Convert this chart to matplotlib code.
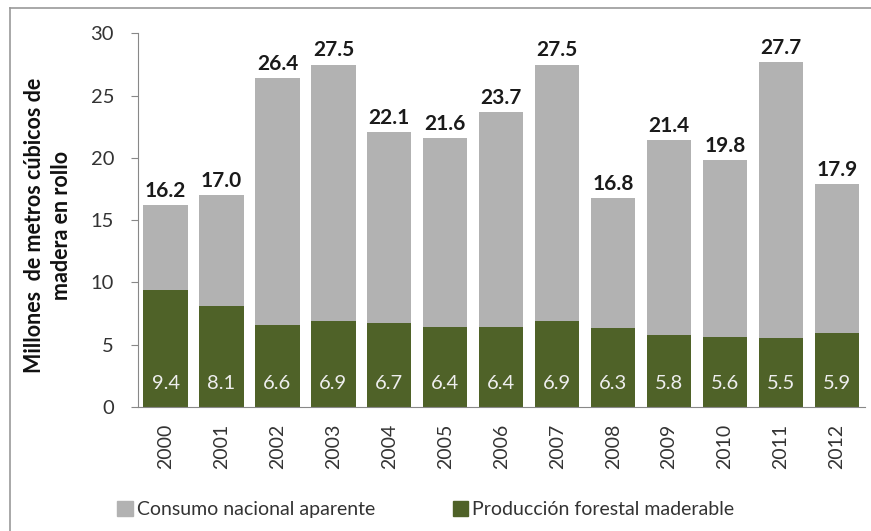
import matplotlib
matplotlib.use("Agg")
import matplotlib.pyplot as plt
from matplotlib.lines import Line2D
import numpy as np

years = ["2000", "2001", "2002", "2003", "2004", "2005", "2006",
         "2007", "2008", "2009", "2010", "2011", "2012"]
consumo_total = [16.2, 17.0, 26.4, 27.5, 22.1, 21.6, 23.7, 27.5, 16.8, 21.4, 19.8, 27.7, 17.9]
produccion = [9.4, 8.1, 6.6, 6.9, 6.7, 6.4, 6.4, 6.9, 6.3, 5.8, 5.6, 5.5, 5.9]

plt.rcParams['font.family'] = ['Lato', 'DejaVu Sans']

GRAY = "#b2b2b2"
GREEN = "#4f6228"

fig = plt.figure(figsize=(8.71, 5.31), dpi=100)
ax = fig.add_axes([0.158, 0.234, 0.835, 0.703])

x = np.arange(len(years))
prod = np.array(produccion)
tot = np.array(consumo_total)
w = 0.79
ax.bar(x, prod, width=w, color=GREEN, label="Producción forestal maderable", zorder=2)
ax.bar(x, tot - prod, width=w, bottom=prod, color=GRAY, label="Consumo nacional aparente", zorder=2)

for xi, t, p in zip(x, tot, prod):
    ax.annotate(f"{t:.1f}", (xi, t), xytext=(0, 3), textcoords="offset points",
                ha="center", va="bottom", fontsize=15, fontweight="bold", color="#1a1a1a")
    ax.text(xi, 1.9, f"{p:.1f}", ha="center", va="center", fontsize=14.5, color="#eeeeee")

ax.set_xlim(-0.5, len(years) - 0.5)
ax.set_ylim(0, 30)
ax.set_yticks([0, 5, 10, 15, 20, 25, 30])
ax.set_xticks(x)
ax.set_xticklabels(years, rotation=90, fontsize=14, color="#333333")
ax.tick_params(axis='y', labelsize=14.5, colors="#333333", length=5, color="#888888", pad=12)
ax.tick_params(axis='x', length=0, pad=12)
for s in ["top", "right"]:
    ax.spines[s].set_visible(False)
ax.spines["left"].set_color("#888888")
ax.spines["bottom"].set_color("#888888")

fig.text(48/871, 1 - 225/531, "Millones  de metros cúbicos de\nmadera en rollo", rotation=90,
         ha="center", va="center", fontsize=15.5, fontweight="bold", color="#111111",
         linespacing=1.35, multialignment="center")

handles = [plt.Rectangle((0, 0), 1, 1, color=GRAY), plt.Rectangle((0, 0), 1, 1, color=GREEN)]
fig.legend(handles, ["Consumo nacional aparente", "Producción forestal maderable"],
           loc="center", bbox_to_anchor=(0.489, 0.04), ncol=2, frameon=False,
           fontsize=14, handlelength=0.8, handleheight=0.8, columnspacing=4.0,
           handletextpad=0.2, labelcolor="#333333")

# outer frame (left and top edges visible)
fig.add_artist(Line2D([10/871, 10/871], [0, 1 - 8/531], color="#999999", lw=1.2,
                      transform=fig.transFigure))
fig.add_artist(Line2D([10/871, 1], [1 - 8/531, 1 - 8/531], color="#999999", lw=1.2,
                      transform=fig.transFigure))

fig.savefig("out.png", dpi=100)
